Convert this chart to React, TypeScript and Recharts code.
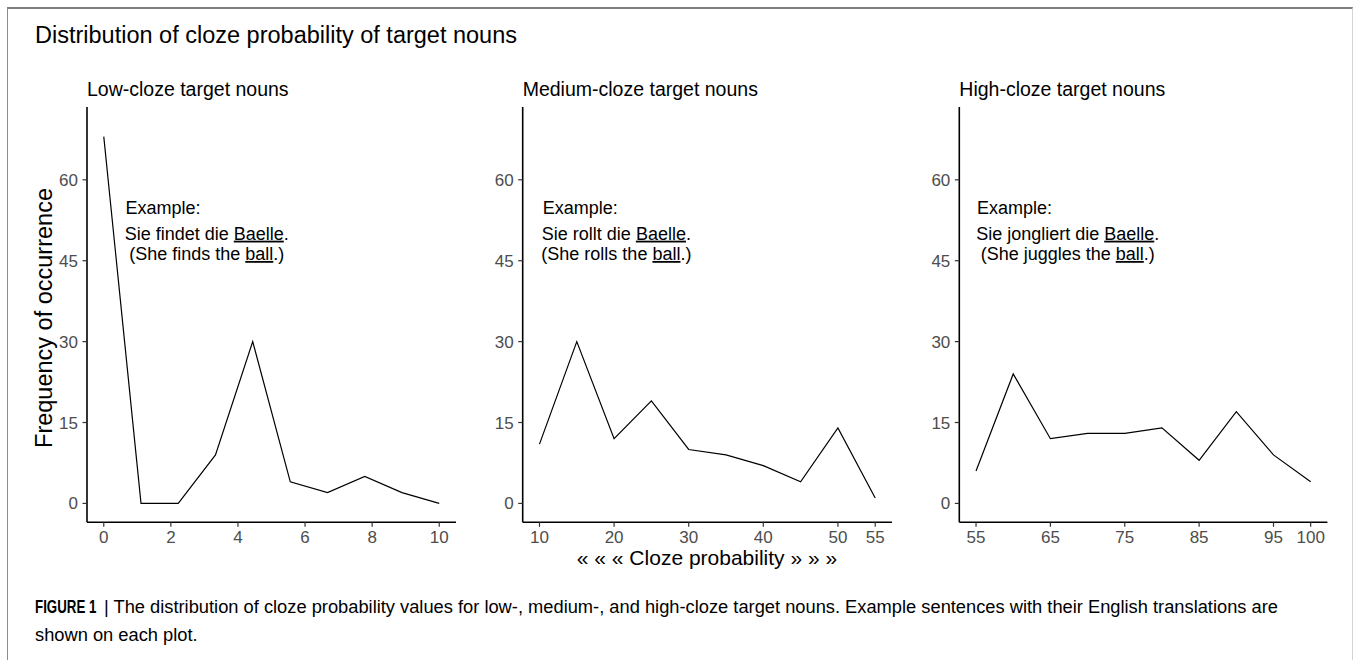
import { LineChart, Line, XAxis, YAxis, ReferenceDot } from 'recharts'

const FONT = '"Liberation Sans", Arial, Helvetica, sans-serif'
const TICK_GREY = '#4D4D4D'

// cloze probability (x) and frequency of occurrence (y), one pair per panel
const lowCloze = [0, 1.11, 2.22, 3.33, 4.44, 5.56, 6.67, 7.78, 8.89, 10]
const lowFreq = [68, 0, 0, 9, 30, 4, 2, 5, 2, 0]
const mediumCloze = [10, 15, 20, 25, 30, 35, 40, 45, 50, 55]
const mediumFreq = [11, 30, 12, 19, 10, 9, 7, 4, 14, 1]
const highCloze = [55, 60, 65, 70, 75, 80, 85, 90, 95, 100]
const highFreq = [6, 24, 12, 13, 13, 14, 8, 17, 9, 4]

const lowTicks = [0, 2, 4, 6, 8, 10]
const mediumTicks = [10, 20, 30, 40, 50, 55]
const highTicks = [55, 65, 75, 85, 95, 100]
const freqTicks = [0, 15, 30, 45, 60]

const panelTitles = ['Low-cloze target nouns', 'Medium-cloze target nouns', 'High-cloze target nouns']
const germanStarts = ['Sie findet die', 'Sie rollt die', 'Sie jongliert die']
const englishStarts = ['(She finds the', '(She rolls the', '(She juggles the']

// layout (kept apart from the values)
const CHART_H = 580
const Y_AXIS_W = 40
const X_AXIS_H = 30
const FREQ_DOMAIN: [number, number] = [-3.5, 73.5]

const panelBoxes = [
  { left: 0, width: 470, marginLeft: 47, marginRight: 14, domain: [-0.5, 10.5] as [number, number] },
  { left: 470, width: 430, marginLeft: 12.7, marginRight: 8, domain: [7.75, 57.25] as [number, number] },
  { left: 900, width: 454, marginLeft: 19.3, marginRight: 26.6, domain: [52.75, 102.25] as [number, number] },
]

// where the example text sits, in data units
const exampleAnchors = [
  { x: 0.65, y: 53.7 },
  { x: 10.44, y: 53.7 },
  { x: 55.14, y: 53.7 },
]
const sentenceAnchors = [
  { x: 3.07, y: 48.9 },
  { x: 20.31, y: 48.9 },
  { x: 67.33, y: 48.9 },
]

const panels = [
  { cloze: lowCloze, freq: lowFreq, ticks: lowTicks },
  { cloze: mediumCloze, freq: mediumFreq, ticks: mediumTicks },
  { cloze: highCloze, freq: highFreq, ticks: highTicks },
]

const tickStyle = { fontSize: 17, fill: TICK_GREY, fontFamily: FONT }
const axisLine = { stroke: '#000', strokeWidth: 1.6 }
const tickLine = { stroke: '#333', strokeWidth: 1.2 }

function Panel({ index }: { index: number }) {
  const p = panels[index]
  const box = panelBoxes[index]
  const data = p.cloze.map((c, i) => ({ cloze: c, freq: p.freq[i] }))
  const ex = exampleAnchors[index]
  const sent = sentenceAnchors[index]

  return (
    <div style={{ position: 'absolute', left: box.left, top: 0 }}>
      <LineChart
        width={box.width}
        height={CHART_H}
        data={data}
        margin={{ top: 107, right: box.marginRight, bottom: CHART_H - 522.3 - X_AXIS_H, left: box.marginLeft }}
      >
        <XAxis
          type="number"
          dataKey="cloze"
          domain={box.domain}
          ticks={p.ticks}
          interval={0}
          allowDataOverflow
          height={X_AXIS_H}
          tick={tickStyle}
          tickSize={4.5}
          tickMargin={4.5}
          axisLine={axisLine}
          tickLine={tickLine}
        />
        <YAxis
          type="number"
          domain={FREQ_DOMAIN}
          ticks={freqTicks}
          interval={0}
          allowDataOverflow
          width={Y_AXIS_W}
          tick={tickStyle}
          tickSize={4.5}
          tickMargin={4.5}
          axisLine={axisLine}
          tickLine={tickLine}
        />
        <Line
          type="linear"
          dataKey="freq"
          stroke="#000"
          strokeWidth={1.2}
          dot={false}
          activeDot={false}
          isAnimationActive={false}
        />
        <ReferenceDot
          x={ex.x}
          y={ex.y}
          r={0}
          shape={(props: any) => (
            <text x={props.cx} y={props.cy} fontSize={18} fontFamily={FONT} fill="#000">
              Example:
            </text>
          )}
        />
        <ReferenceDot
          x={sent.x}
          y={sent.y}
          r={0}
          shape={(props: any) => (
            <g fontSize={18} fontFamily={FONT} fill="#000" textAnchor="middle">
              <text x={props.cx} y={props.cy}>
                {germanStarts[index]}{' '}
                <tspan style={{ textDecoration: 'underline' }}>Baelle</tspan>.
              </text>
              <text x={props.cx} y={props.cy + 20.3}>
                {englishStarts[index]}{' '}
                <tspan style={{ textDecoration: 'underline' }}>ball</tspan>.)
              </text>
            </g>
          )}
        />
      </LineChart>
    </div>
  )
}

export default function App() {
  return (
    <div
      style={{
        position: 'absolute',
        left: 0,
        top: 0,
        width: 1354,
        height: 660,
        overflow: 'hidden',
        background: '#fff',
        fontFamily: FONT,
      }}
    >
      <div
        style={{
          position: 'absolute',
          left: 7,
          top: 7,
          width: 1346,
          height: 700,
          boxSizing: 'border-box',
          borderTop: '2px solid #7f7f7f',
          borderLeft: '1px solid #8c8c8c',
          borderRight: '1px solid #d4d4d4',
        }}
      />
      {panels.map((_, i) => (
        <Panel key={i} index={i} />
      ))}
      <svg
        width={1354}
        height={660}
        style={{ position: 'absolute', left: 0, top: 0, pointerEvents: 'none' }}
        fontFamily={FONT}
      >
        <text x={35} y={42.5} fontSize={23.5} fill="#000">
          Distribution of cloze probability of target nouns
        </text>
        {panelTitles.map((t, i) => (
          <text
            key={t}
            x={panelBoxes[i].left + panelBoxes[i].marginLeft + Y_AXIS_W}
            y={95.5}
            fontSize={19.5}
            fill="#000"
          >
            {t}
          </text>
        ))}
        <text
          x={51.5}
          y={318}
          fontSize={23.5}
          fill="#000"
          textAnchor="middle"
          transform="rotate(-90 51.5 318)"
        >
          Frequency of occurrence
        </text>
        <text x={707} y={565.3} fontSize={21} fill="#000" textAnchor="middle">
          « « « Cloze probability » » »
        </text>
        <text
          x={0}
          y={0}
          fontSize={18}
          fontWeight="bold"
          fill="#000"
          transform="translate(35 613.3) scale(0.74 1)"
        >
          FIGURE 1
        </text>
        <text x={104} y={613.3} fontSize={18.3} fill="#000">
          | The distribution of cloze probability values for low-, medium-, and high-cloze target nouns. Example
          sentences with their English translations are
        </text>
        <text x={35} y={641} fontSize={18.3} fill="#000">
          shown on each plot.
        </text>
      </svg>
    </div>
  )
}
